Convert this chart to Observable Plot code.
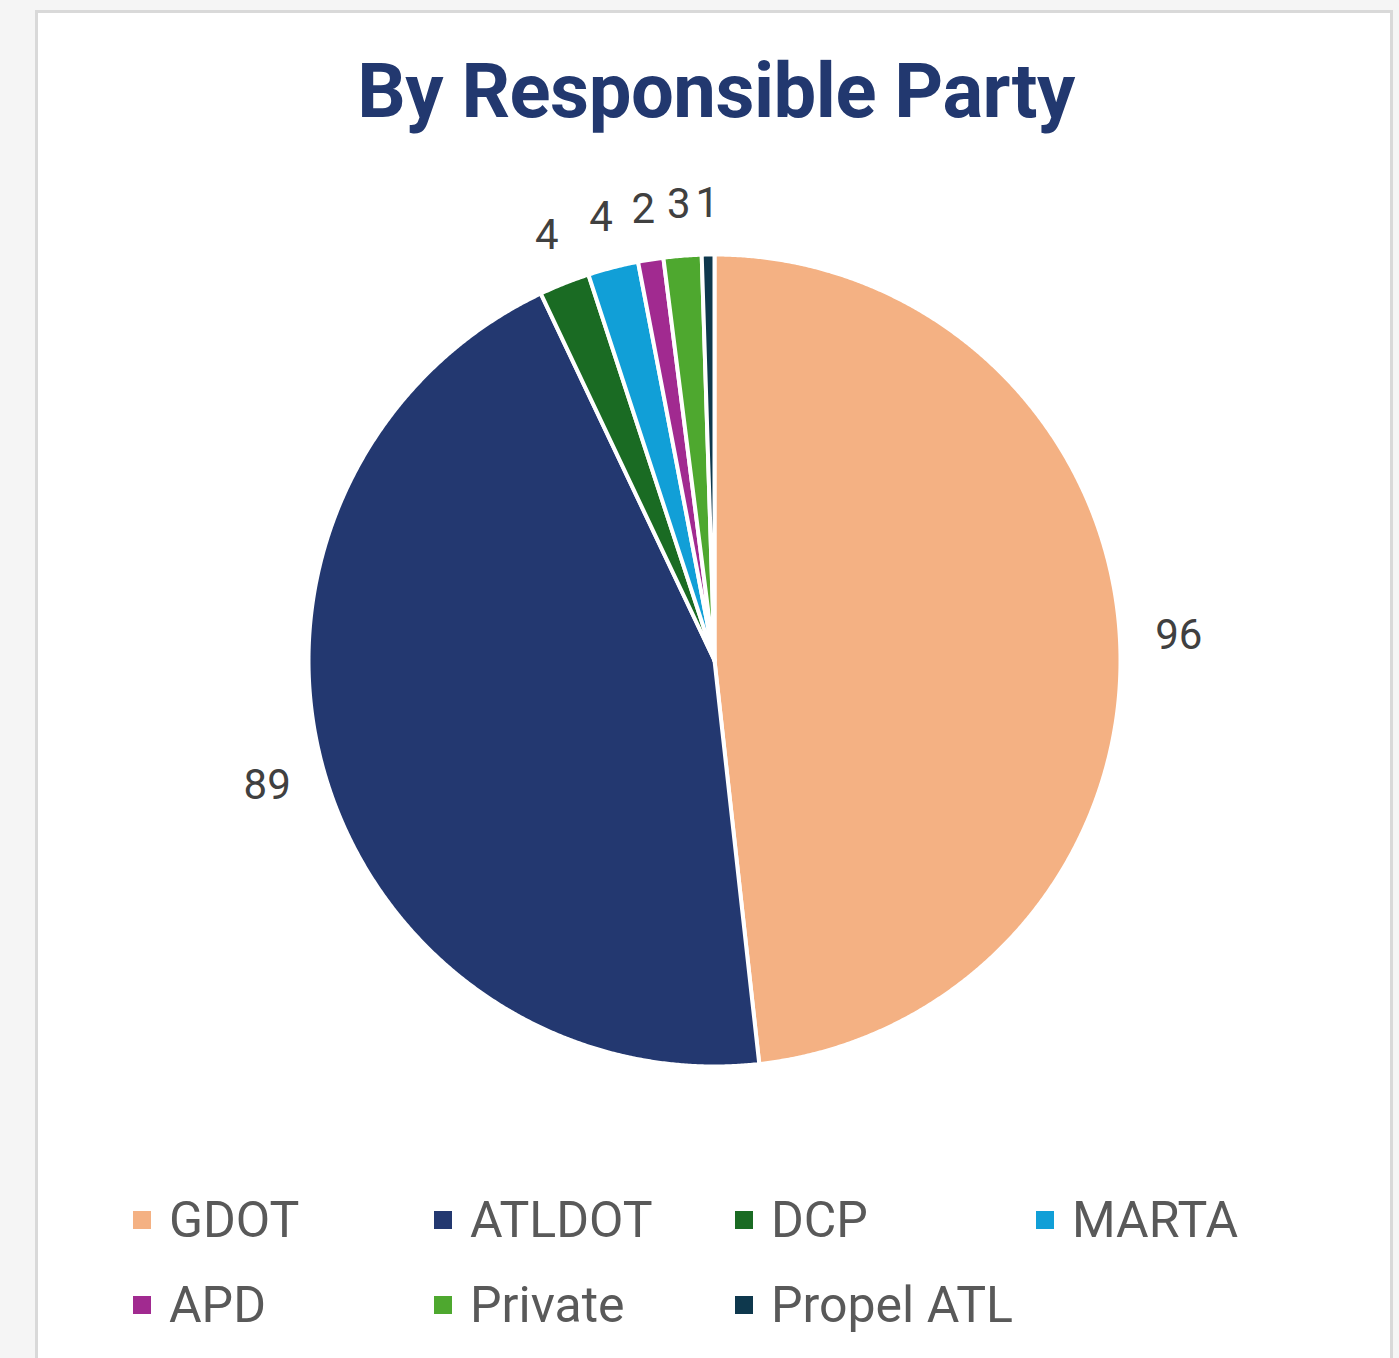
<!DOCTYPE html>
<html>
<head>
<meta charset="utf-8">
<script src="https://cdn.jsdelivr.net/npm/d3@7"></script>
<script src="https://cdn.jsdelivr.net/npm/@observablehq/plot@0.6"></script>
<style>
  html, body { margin: 0; padding: 0; background: #f5f5f5; width: 1399px; height: 1358px; overflow: hidden; font-family: Roboto, "Noto Sans", sans-serif; }
  #card { position: absolute; left: 35px; top: 10px; width: 1352px; height: 1400px; background: #fff; border: 3px solid #d9d9d9; }
  #title { position: absolute; left: 0; top: 46px; width: 1432px; text-align: center; font-weight: 700; font-size: 76px; color: #22386f; letter-spacing: -0.5px; }
  #chart { position: absolute; left: 0; top: 170px; }
  #legend { position: absolute; left: 133px; top: 1177px; width: 1250px; display: grid; grid-template-columns: repeat(4, 301px); grid-auto-rows: 85px; }
  .item { display: flex; align-items: center; font-size: 50px; color: #595959; }
  .sw { width: 18px; height: 18px; margin-right: 18px; flex: none; }
</style>
</head>
<body>
<div id="card"></div>
<div id="title">By Responsible Party</div>
<div id="chart"></div>
<div id="legend"></div>
<script>
const parties = ["GDOT", "ATLDOT", "DCP", "MARTA", "APD", "Private", "Propel ATL"];
const counts = [96, 89, 4, 4, 2, 3, 1];
const colors = ["#f4b183", "#233870", "#1a6b23", "#119fd7", "#a12a90", "#4ea82f", "#0e384d"];

// layout
const W = 1399, H = 950, cx = 714, cy = 490, R = 406, labelBase = 442, halfDigitW = 11.5, halfH = 15;

const rows = parties.map((p, i) => ({party: p, value: counts[i]}));
const arcs = d3.pie().value(d => d.value).sort(null)(rows);

// slice outlines in unit-radius coordinates (clockwise from 12 o'clock)
const slicePts = [];
for (const a of arcs) {
  const p = a.data.party;
  slicePts.push({party: p, x: 0, y: 0});
  const n = Math.max(2, Math.ceil((a.endAngle - a.startAngle) / (Math.PI / 720)));
  for (let k = 0; k <= n; k++) {
    const t = a.startAngle + (a.endAngle - a.startAngle) * k / n;
    slicePts.push({party: p, x: Math.sin(t), y: Math.cos(t)});
  }
  slicePts.push({party: p, x: 0, y: 0});
}
// outside-end labels: anchor point beyond the rim, pushed out by half the label box
const labels = arcs.map(a => {
  const m = (a.startAngle + a.endAngle) / 2;
  const s = Math.sin(m), c = Math.cos(m);
  const hw = halfDigitW * String(a.data.value).length;
  return {
    party: a.data.party, value: a.data.value,
    x: (s * labelBase + s * hw) / R,
    y: (c * labelBase + c * halfH) / R
  };
});

const chart = Plot.plot({
  width: W, height: H,
  margin: 0,
  x: {domain: [-cx / R, (W - cx) / R], axis: null},
  y: {domain: [-(H - cy) / R, cy / R], axis: null},
  color: {domain: parties, range: colors},
  style: {background: "transparent", fontFamily: "Roboto, sans-serif"},
  marks: [
    Plot.line(slicePts, {x: "x", y: "y", z: "party", fill: "party", stroke: "white", strokeWidth: 4, strokeLinejoin: "round"}),
    Plot.text(labels, {x: "x", y: "y", text: d => String(d.value), fontSize: 42, fill: "#404040", textAnchor: "middle"})
  ]
});
document.getElementById("chart").appendChild(chart);

const legend = document.getElementById("legend");
parties.forEach((p, i) => {
  const it = document.createElement("div");
  it.className = "item";
  const sw = document.createElement("span");
  sw.className = "sw";
  sw.style.background = colors[i];
  it.appendChild(sw);
  it.appendChild(document.createTextNode(p));
  legend.appendChild(it);
});
</script>
</body>
</html>
